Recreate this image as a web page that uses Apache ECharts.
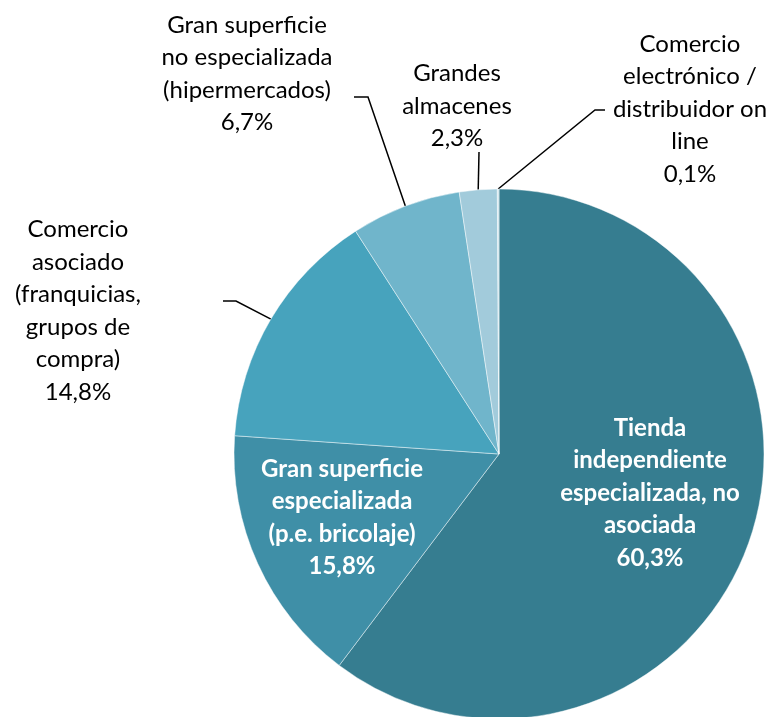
<!DOCTYPE html>
<html>
<head>
<meta charset="utf-8">
<script src="https://cdn.jsdelivr.net/npm/echarts@6/dist/echarts.min.js"></script>
<style>
  html, body { margin: 0; padding: 0; background: #fff; }
  #chart { width: 774px; height: 717px; }
</style>
</head>
<body>
<div id="chart"></div>
<script>
// datos
const categories = [
  'Tienda\nindependiente\nespecializada, no\nasociada',
  'Gran superficie\nespecializada\n(p.e. bricolaje)',
  'Comercio\nasociado\n(franquicias,\ngrupos de\ncompra)',
  'Gran superficie\nno especializada\n(hipermercados)',
  'Grandes\nalmacenes',
  'Comercio\nelectrónico /\ndistribuidor on\nline'
]
const values = [60.3, 15.8, 14.8, 6.7, 2.3, 0.1]

// estilo
const colors = ['#367D90', '#3F8FA7', '#47A3BD', '#70B5CB', '#A2CBDB', '#C9E1EA']
const insideLabel = [true, true, false, false, false, false]
// centro de cada etiqueta y quiebre de la línea guía
const labelPos = [
  [650, 493], [342, 518], [78, 311], [247, 74], [457, 106], [690, 109]
]
const guidePts = [
  null, null,
  [[236, 301], [223, 301]],
  [[368, 97], [354, 97]],
  [[479, 152]],
  [[595, 110], [605, 110]]
]

const fmt = v => v.toFixed(1).replace('.', ',') + '%'

const chart = echarts.init(document.getElementById('chart'))

const option = {
  animation: false,
  series: [{
    type: 'pie',
    center: [499, 454],
    radius: 265,
    startAngle: 90,
    clockwise: true,
    avoidLabelOverlap: false,
    minAngle: 0,
    itemStyle: {
      borderColor: 'rgba(255,255,255,0.45)',
      borderWidth: 1
    },
    label: {
      formatter: p => p.name + '\n' + fmt(p.value),
      fontFamily: 'Lato',
      fontSize: 24,
      lineHeight: 32.5,
      color: '#000',
      align: 'center'
    },
    labelLine: {
      show: true,
      lineStyle: { color: '#000', width: 1.5 }
    },
    labelLayout: params => {
      const i = params.dataIndex
      const res = {
        x: labelPos[i][0],
        y: labelPos[i][1],
        align: 'center',
        verticalAlign: 'middle'
      }
      if (guidePts[i] && params.labelLinePoints) {
        res.labelLinePoints = [params.labelLinePoints[0]].concat(guidePts[i])
      }
      return res
    },
    data: categories.map((name, i) => ({
      name,
      value: values[i],
      itemStyle: { color: colors[i] },
      label: insideLabel[i]
        ? { position: 'inside', color: '#fff', fontWeight: 'bold', fontSize: 24 }
        : { position: 'outside' },
      labelLine: { show: !insideLabel[i] }
    }))
  }]
}

chart.setOption(option)
</script>
</body>
</html>
